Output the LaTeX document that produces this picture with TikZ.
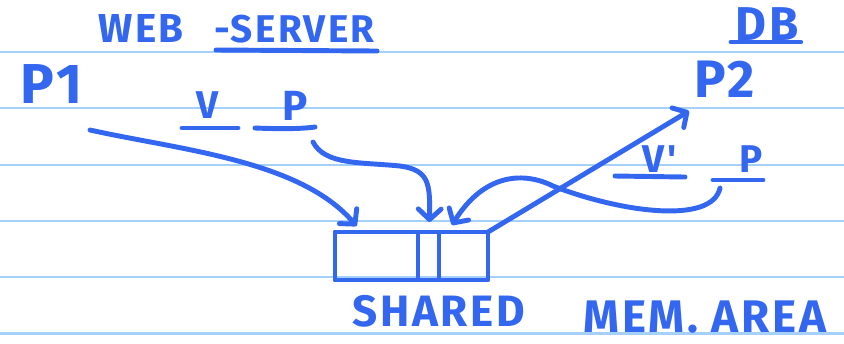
\documentclass[tikz,border=0pt]{standalone}
\usepackage{fontspec}
\newfontfamily\handfont[LetterSpace=6]{Fira Sans}
\usepackage{xcolor}
\usepackage{tikz}
\usetikzlibrary{positioning,arrows.meta,calc}
\definecolor{inkblue}{RGB}{52,103,240}
\definecolor{rulecol}{RGB}{165,208,250}

\begin{document}
\begin{tikzpicture}[x=0.02cm, y=-0.02cm,
    ink/.style={draw=inkblue, line width=2.8pt, line cap=round, line join=round},
    arr/.style={ink, -{Straight Barb[length=6pt,width=13pt,round]}},
    hand/.style={text=inkblue, inner sep=0pt, anchor=base west,
                 font=\handfont\bfseries\fontsize{#1}{#1}\selectfont},
    cell/.style={ink, rectangle, inner sep=0pt, outer sep=0pt,
                 minimum height=0.96cm}]
  % ruled paper
  \fill[white] (0,0) rectangle (844,343);
  \useasboundingbox (0,0) rectangle (844,343);
  \foreach \ry in {52,108.3,164.6,220.9,277.2,333.5}
    \draw[rulecol, line width=1.2pt] (0,\ry) -- (844,\ry);
  % titles
  \node[hand=23] (web) at (98,42) {WEB};
  \node[hand=22] (srv) at (214,42) {-SERVER};
  \node[hand=27] (db) at (735,40) {DB};
  \draw[ink] ($(srv.base west)+(2,8)$) -- ($(srv.base east)+(2,9)$);
  \draw[ink] ($(db.base west)+(-4,2)$) -- ($(db.base east)+(2,2)$);
  % processes
  \node[hand=32] (p1) at (20,103) {P1};
  \node[hand=30] (p2) at (694,97) {P2};
  % virtual / physical addresses
  \node[hand=22] (vws) at (196,118) {V};
  \node[hand=24] (pws) at (282,120) {P};
  \node[hand=22] (vdb) at (642,172) {V'};
  \node[hand=22] (pdb) at (739,172) {P};
  \draw[ink] (182,128) -- (238,128);
  \draw[ink] (255,128) .. controls (280,129) and (300,129) .. (315,127);
  \draw[ink] (615,176) -- (685,177);
  \draw[ink] (713,180) -- (763,180);
  % shared memory cells
  \node[cell, minimum width=1.66cm] (memL) at (376.5,256) {};
  \node[cell, minimum width=0.42cm, right=0pt of memL] (memM) {};
  \node[cell, minimum width=0.98cm, right=0pt of memM] (memR) {};
  \node[hand=25] (shr) at (352,326) {SHARED};
  \node[hand=26] (area) at (583,332) {MEM.\ AREA};
  % mapping arrows
  \coordinate (p1tail) at (90,130);
  \coordinate (pwstail) at (313,142);
  \coordinate (pdbtail) at (720,188);
  \coordinate (p2head) at (689,111);
  \draw[arr] (p1tail) .. controls (180,150) and (300,160) .. ($(memL.north)+(-20,-6)$);
  \draw[arr] (pwstail) .. controls (325,165) and (360,162) .. (400,166)
    .. controls (430,170) and (430,185) .. ($(memM.north)+(1,-10)$);
  \draw[arr] (pdbtail) .. controls (712,225) and (620,212) .. (553,186)
    .. controls (525,172) and (485,172) .. ($(memR.north west)+(13,-7)$);
  \draw[arr] (memR.north east) -- (p2head);
\end{tikzpicture}
\end{document}
